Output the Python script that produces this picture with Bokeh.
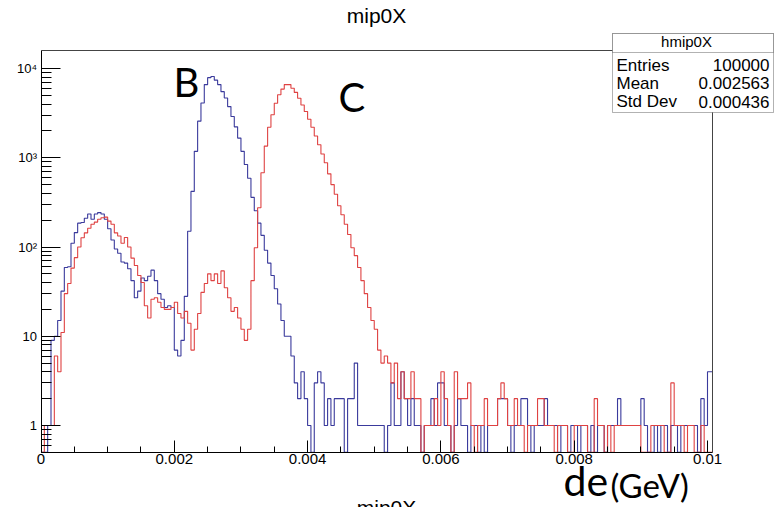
import numpy as np
from bokeh.plotting import figure
from bokeh.models import (FixedTicker, Label, BoxAnnotation, Range1d, LinearAxis, LogAxis)
from bokeh.embed import file_html
from bokeh.resources import INLINE

# ---------------- data ----------------
BIN_WIDTH = 0.00005   # GeV per bin

blue_counts = [
    0, 0, 1, 9, 10, 15, 32, 59, 60, 110,
    145, 185, 188, 210, 234, 205, 234, 243, 234, 205,
    160, 120, 95, 85, 68, 66, 57, 42, 27, 32,
    45, 42, 47, 55, 42, 30, 26, 21, 22, 21,
    7, 6, 9, 28, 150, 420, 1180, 2570, 4100, 6600,
    7900, 8150, 7400, 6600, 5500, 4680, 3740, 2900, 2220, 1660,
    1180, 840, 590, 360, 255, 185, 135, 92, 66, 48,
    34, 23, 15, 10, 10, 6, 3, 2, 4, 2,
    1, 0, 3, 4, 3, 1, 2, 1, 2, 2,
    2, 0, 2, 2, 5, 1, 1, 1, 1, 1,
    1, 1, 1, 0, 1, 3, 1, 1, 4, 2,
    1, 2, 1, 1, 0, 1, 1, 2, 1, 3,
    3, 1, 1, 0, 1, 2, 1, 1, 0, 1,
    1, 0, 1, 0, 1, 1, 1, 2, 2, 2,
    1, 0, 1, 1, 2, 2, 1, 0, 1, 1,
    1, 2, 1, 1, 1, 0, 1, 1, 0, 1,
    1, 0, 1, 1, 0, 1, 0, 1, 1, 0,
    1, 1, 1, 2, 1, 1, 1, 1, 1, 1,
    2, 1, 0, 0, 1, 0, 1, 1, 0, 1,
    1, 0, 1, 1, 1, 1, 1, 0, 2, 1,
    4, 4,
]

red_counts = [
    0, 1, 1, 1, 6, 4, 11, 30, 39, 58,
    76, 100, 127, 144, 162, 180, 190, 205, 213, 216,
    195, 180, 144, 133, 110, 128, 100, 75, 62, 48,
    40, 22, 16, 26, 27, 24, 21, 20, 20, 21,
    24, 18, 16, 19, 14, 7, 12, 18, 31, 39,
    50, 42, 50, 39, 54, 35, 27, 19, 21, 16,
    12, 9, 12, 42, 98, 275, 680, 1350, 2200, 3030,
    4080, 5080, 5880, 6600, 6600, 6000, 5400, 4650, 3900, 3300,
    2700, 2200, 1750, 1400, 1100, 880, 660, 500, 390, 290,
    230, 180, 138, 98, 80, 59, 42, 30, 21, 15,
    12, 7, 5, 6, 5, 3, 5, 2, 4, 2,
    2, 4, 2, 2, 0, 1, 1, 1, 2, 1,
    4, 2, 1, 0, 4, 2, 2, 2, 3, 1,
    0, 1, 1, 2, 1, 1, 1, 2, 3, 2,
    1, 1, 2, 1, 1, 0, 1, 1, 1, 2,
    2, 1, 1, 1, 0, 1, 1, 1, 0, 0,
    1, 1, 1, 1, 0, 0, 2, 1, 1, 0,
    1, 0, 1, 1, 1, 1, 1, 1, 1, 1,
    0, 0, 0, 1, 1, 1, 1, 0, 0, 3,
    1, 1, 1, 0, 1, 1, 0, 0, 1, 0,
    0, 0,
]

x_ticks = [0, 0.002, 0.004, 0.006, 0.008, 0.01]
x_tick_labels = ["0", "0.002", "0.004", "0.006", "0.008", "0.01"]
y_ticks = [1, 10, 100, 1000, 10000]
y_tick_labels = ["1", "10", "10\u00b2", "10\u00b3", "10\u2074"]

title_text = "mip0X"
stats_title = "hmip0X"
stats_names = ["Entries", "Mean", "Std Dev"]
stats_values = ["100000", "0.002563", "0.000436"]
label_b, label_c = "B", "C"
unit_main, unit_sub = "de", "(GeV)"

# ---------------- layout ----------------
W, H = 775, 507
X_ROOT_MAX = 0.010075          # right edge of the ROOT frame
Y_MIN, Y_ROOT_MAX = 0.5, 15900.0
PX_X0, PX_PER_X = 40.5, 66650.0      # pixel of x=0, pixels per GeV
PX_Y1, PX_PER_DEC = 425.0, 89.25     # pixel of y=1, pixels per decade
BLUE = "#3a3a9c"
RED = "#df4242"
ROOT_FONT = "Liberation Sans"
NOTE_FONT = "Lato"
# measured shift of the drawn baseline below the anchor, as a fraction of font size
BASE_SHIFT = {ROOT_FONT: 0.41, NOTE_FONT: 0.46}


def data_x(px):
    return (px - PX_X0) / PX_PER_X


def data_y(py):
    return 10.0 ** ((PX_Y1 - py) / PX_PER_DEC)


# the plotting frame covers the whole canvas; axes sit at fixed locations
p = figure(width=W, height=H,
           x_range=Range1d(data_x(0), data_x(W)), y_range=Range1d(data_y(H), data_y(0)),
           y_axis_type="log", x_axis_location=None, y_axis_location=None,
           output_backend="svg", toolbar_location=None, min_border=0,
           min_border_left=0, min_border_right=0, min_border_top=0, min_border_bottom=0)
p.title.visible = False
p.background_fill_color = "white"
p.border_fill_color = "white"
p.outline_line_color = None
p.grid.visible = False

x_minor = [k * 0.0005 for k in range(0, 21)]
y_minor = [k * 10.0 ** d for d in range(-1, 5) for k in range(2, 10)
           if Y_MIN <= k * 10.0 ** d <= Y_ROOT_MAX]

xaxis = LinearAxis(fixed_location=Y_MIN, bounds=(0, X_ROOT_MAX),
                   ticker=FixedTicker(ticks=x_ticks, minor_ticks=x_minor),
                   major_label_overrides=dict(zip(x_ticks, x_tick_labels)))
yaxis = LogAxis(fixed_location=0, bounds=(Y_MIN, Y_ROOT_MAX),
                ticker=FixedTicker(ticks=y_ticks, minor_ticks=y_minor),
                major_label_overrides=dict(zip(y_ticks, y_tick_labels)))
for ax in (xaxis, yaxis):
    ax.axis_line_color = "black"
    ax.major_tick_line_color = "black"
    ax.minor_tick_line_color = "black"
    ax.major_tick_out = 0
    ax.minor_tick_out = 0
    ax.major_label_text_font = ROOT_FONT
    ax.major_label_text_color = "black"
xaxis.major_tick_in = 12
xaxis.minor_tick_in = 6
xaxis.major_label_text_font_size = "15px"
xaxis.major_label_standoff = 2
yaxis.major_tick_in = 19
yaxis.minor_tick_in = 10
yaxis.major_label_text_font_size = "13px"
yaxis.major_label_standoff = 4
p.add_layout(xaxis, "below")
p.add_layout(yaxis, "left")

# top and right edges of the ROOT frame: bare axis lines
top_edge = LinearAxis(fixed_location=Y_ROOT_MAX, bounds=(0, X_ROOT_MAX),
                      ticker=FixedTicker(ticks=[]), axis_line_color="#444444",
                      major_tick_line_color=None, minor_tick_line_color=None,
                      major_label_text_font_size="0px")
right_edge = LogAxis(fixed_location=X_ROOT_MAX, bounds=(Y_MIN, Y_ROOT_MAX),
                     ticker=FixedTicker(ticks=[]), axis_line_color="#444444",
                     major_tick_line_color=None, minor_tick_line_color=None,
                     major_label_text_font_size="0px")
p.add_layout(top_edge, "above")
p.add_layout(right_edge, "right")

edges = np.minimum(np.arange(len(blue_counts) + 1) * BIN_WIDTH, X_ROOT_MAX)


def step_y(counts):
    c = np.asarray(counts, dtype=float)
    c = np.where(c > 0, c, Y_MIN)   # empty bins sit on the frame bottom (log scale)
    return np.append(c, c[-1])


p.step(edges, step_y(blue_counts), mode="after", line_color=BLUE, line_width=1.1)
p.step(edges, step_y(red_counts), mode="after", line_color=RED, line_width=1.1)


def add_label(px, base_py, text, font, size_px, align="left", level="annotation"):
    """Place a text so that its baseline lands on page row base_py."""
    anchor_py = base_py - BASE_SHIFT[font] * size_px
    p.add_layout(Label(x=data_x(px), y=data_y(anchor_py), text=text, text_align=align,
                       text_baseline="alphabetic", text_font=font,
                       text_font_size=f"{size_px}px", text_color="black", level=level))


# title
add_label(376, 24, title_text, ROOT_FONT, 21, align="center")

# stats box
p.add_layout(BoxAnnotation(left=data_x(612), right=data_x(773), top=data_y(33),
                           bottom=data_y(112), fill_color="white", fill_alpha=1.0,
                           line_color="black", line_width=1, level="overlay"))
p.add_layout(BoxAnnotation(left=data_x(612), right=data_x(773), top=data_y(33),
                           bottom=data_y(52), fill_color="white", fill_alpha=1.0,
                           line_color="black", line_width=1, level="overlay"))
add_label(686, 47, stats_title, ROOT_FONT, 15, align="center", level="overlay")
for i, (nm, val) in enumerate(zip(stats_names, stats_values)):
    add_label(616, 71.5 + i * 18.3, nm, ROOT_FONT, 17, level="overlay")
    add_label(769, 71.5 + i * 18.3, val, ROOT_FONT, 17, align="right", level="overlay")

# annotations B, C, de(GeV)
add_label(173, 100, label_b, NOTE_FONT, 40)
add_label(338, 115, label_c, NOTE_FONT, 40)
add_label(563, 499, unit_main, NOTE_FONT, 41)
add_label(610, 500, unit_sub, NOTE_FONT, 33)

# x-axis title, cut at the bottom edge as in the original
p.add_layout(Label(x=data_x(386), y=data_y(495), text=title_text, text_align="center",
                   text_baseline="top", text_font=ROOT_FONT, text_font_size="21px",
                   text_color="black"))

open("out.html", "w").write(file_html(p, INLINE))
